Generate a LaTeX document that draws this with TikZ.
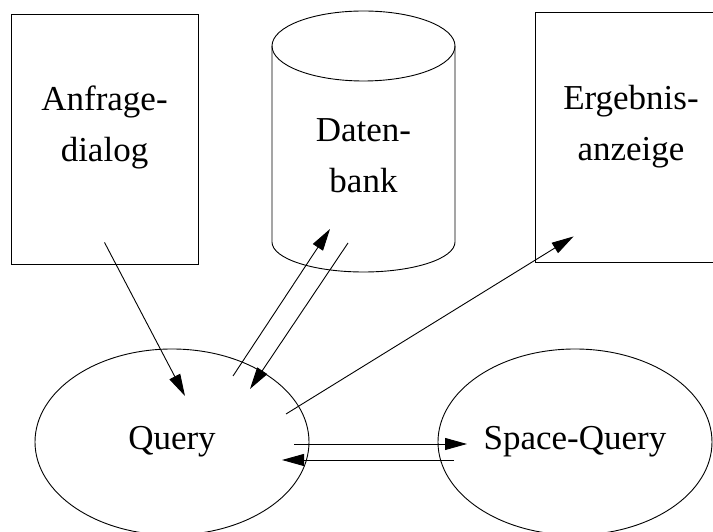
\documentclass[tikz,border=0pt]{standalone}
\usepackage{fontspec}
\setmainfont{Liberation Serif}
\usetikzlibrary{arrows.meta,shapes.geometric}

\begin{document}
\begin{tikzpicture}[
    x=1pt, y=1pt,
    line width=0.9pt,
    every node/.style={font=\fontsize{35}{51}\selectfont, align=center, inner sep=0pt},
    box/.style={draw, minimum width=187pt, minimum height=250pt},
    proc/.style={draw, ellipse, minimum width=274pt, minimum height=186pt},
    flow/.style={-{Triangle[length=22pt,width=12pt]}}
  ]
  \useasboundingbox (0,0) rectangle (713,532);
  \clip (0,0) rectangle (713,532);

  % Fenster
  \node[box] (anfrage) at (104.5,393) {};
  \node (anfragetext) at (104.5,404.6) {Anfrage-\\dialog};
  \node[box] (ergebnis) at (628.5,395) {};
  \node (ergebnistext) at (631,405.6) {Ergebnis-\\anzeige};

  % Datenbank-Zylinder
  \node (db) at (363.5,376) {Daten-\\bank};
  \draw (272,486) -- (272,290) arc[start angle=180, end angle=360, x radius=91.5, y radius=30] -- (455,486);
  \draw (363.5,486) ellipse [x radius=91.5, y radius=35];

  \node[proc] (query) at (172,90) {Query};
  \node[proc] (space) at (575,90) {Space-Query};

  \draw[flow] ([yshift=22pt]anfrage.south) -- ([shift={(13,46)}]query.center);
  \draw[flow] ([shift={(61,66)}]query.center) -- ([shift={(-33.5,-73)}]db.center);
  \draw[flow] ([shift={(-15.5,-87)}]db.center) -- ([shift={(78,53)}]query.center);
  \draw[flow] ([shift={(114,28)}]query.center) -- ([shift={(39,26)}]ergebnis.south west);
  \draw[flow] ([shift={(122,-2)}]query.center) -- ([shift={(-108,-2)}]space.center);
  \draw[flow] ([shift={(-121,-18)}]space.center) -- ([shift={(110,-18)}]query.center);

\end{tikzpicture}
\end{document}
